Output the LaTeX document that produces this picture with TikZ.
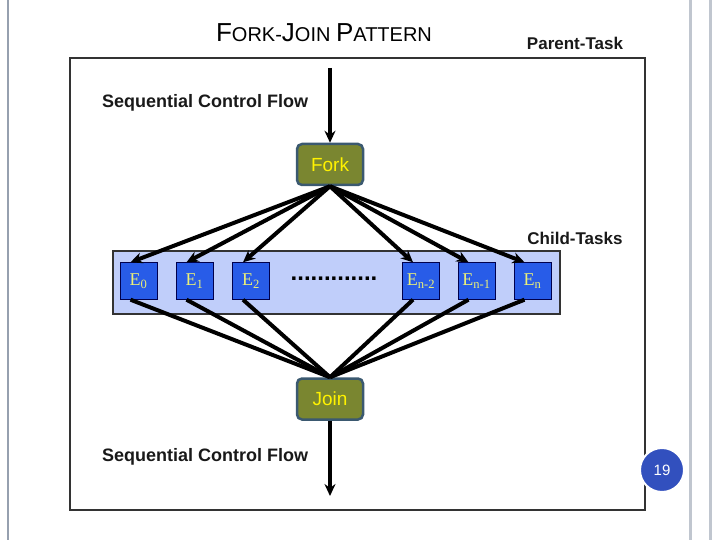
\documentclass[tikz,border=0pt]{standalone}
\usepackage{fontspec}
\setmainfont{Liberation Sans}
\newfontfamily\taskfont{Liberation Serif}
\usepackage{tikz}
\usetikzlibrary{arrows.meta,positioning}
\definecolor{olivebox}{RGB}{122,134,48}
\definecolor{slateedge}{RGB}{59,89,112}
\definecolor{taskblue}{RGB}{40,92,232}
\definecolor{bandblue}{RGB}{192,206,250}
\definecolor{taskyellow}{RGB}{236,240,120}
\definecolor{framegray}{RGB}{150,160,175}
\definecolor{numblue}{RGB}{50,80,190}
\tikzset{
  ctrl/.style={draw=slateedge,line width=2.5pt,fill=olivebox,rounded corners=5pt,
    minimum width=66pt,minimum height=41pt,text=yellow,font=\fontsize{19}{22}\selectfont},
  task/.style={draw=black!70!blue,fill=taskblue,minimum width=37pt,minimum height=37pt,
    text=taskyellow,font=\taskfont\fontsize{18}{21}\selectfont,inner sep=1pt},
  flow/.style={line width=4pt,-{Stealth[length=12pt,width=11pt]}},
  merge/.style={line width=4pt},
  lbl/.style={font=\bfseries\fontsize{18}{21}\selectfont,text=black!90}
}
\begin{document}
\begin{tikzpicture}[x=1pt,y=-1pt]
\useasboundingbox (0,0) rectangle (720,540);
% page decoration
\draw[framegray,line width=1.5pt] (8,0) -- (8,540);
\draw[framegray!60,line width=3pt] (690,0) -- (690,540) (710,0) -- (710,540);
\draw[black!80,line width=2pt] (70,58) rectangle (645,510);
% titles
\node (title) at (324,33) {\fontsize{26}{30}\selectfont F\fontsize{20}{30}\selectfont ORK-\fontsize{26}{30}\selectfont J\fontsize{20}{30}\selectfont OIN \fontsize{26}{30}\selectfont P\fontsize{20}{30}\selectfont ATTERN};
\node[lbl,font=\bfseries\fontsize{17}{20}\selectfont] (parent) at (575,43) {Parent-Task};
\node[lbl] (seqtop) at (205,103) {Sequential Control Flow};
\node[lbl] (seqbot) at (205,457) {Sequential Control Flow};
\node[lbl,font=\bfseries\fontsize{17}{20}\selectfont] (child) at (575,238) {Child-Tasks};
% band of tasks
\draw[black!80,fill=bandblue,line width=1.5pt] (113,251) rectangle (560,314);
\node[ctrl] (fork) at (330,164.5) {Fork};
\node[ctrl] (join) at (330,399) {Join};
\node[task] (e0) at (138.5,281) {E\textsubscript{0}};
\node[task] (e1) at (194.5,281) {E\textsubscript{1}};
\node[task] (e2) at (251,281) {E\textsubscript{2}};
\node[task] (en2) at (421,281) {E\textsubscript{n-2}};
\node[task] (en1) at (476.5,281) {E\textsubscript{n-1}};
\node[task] (en) at (532.5,281) {E\textsubscript{n}};
\node[font=\bfseries\fontsize{24}{26}\selectfont] (dots) at (334,279) {.............};
% connectors
\coordinate (in) at (330,68);
\coordinate (out) at (330,496);
\draw[flow] (in) -- (fork.north);
\draw[flow] (join.south) -- (out);
\foreach \t in {e0,e1,e2,en2,en1,en}{
  \draw[flow] (fork.south) -- ([xshift=-8pt]\t.north);
  \draw[merge] ([xshift=-8pt]\t.south) -- (join.north);
}
% page number
\node[circle,fill=numblue,draw=white,line width=2pt,minimum size=44pt,text=white,
  font=\fontsize{15}{17}\selectfont] (page) at (662,470) {19};
\end{tikzpicture}
\end{document}
